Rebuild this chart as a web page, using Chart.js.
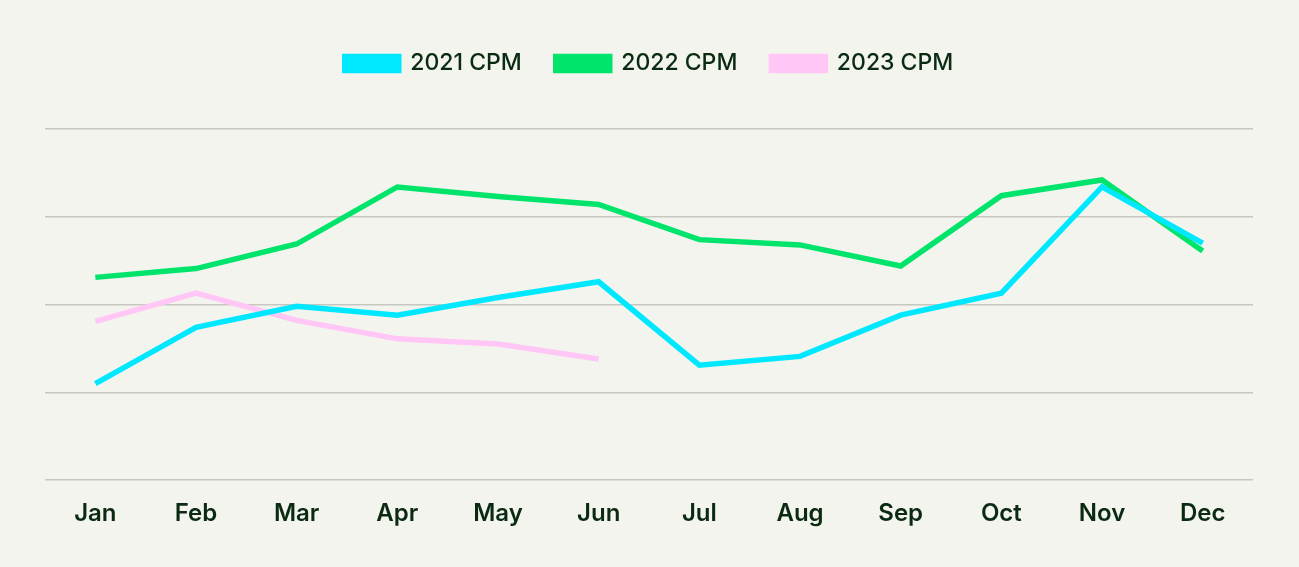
<!DOCTYPE html>
<html>
<head>
<meta charset="utf-8">
<script src="https://cdn.jsdelivr.net/npm/chart.js@4/dist/chart.umd.min.js"></script>
<style>
  html, body { margin: 0; padding: 0; background: #f3f4ee; }
  #wrap { width: 1299px; height: 567px; }
</style>
</head>
<body>
<div id="wrap"><canvas id="cpmChart"></canvas></div>
<script>
const months = ["Jan", "Feb", "Mar", "Apr", "May", "Jun", "Jul", "Aug", "Sep", "Oct", "Nov", "Dec"];
const cpm2021 = [1.10, 1.74, 1.98, 1.88, 2.08, 2.26, 1.31, 1.41, 1.88, 2.13, 3.34, 2.70];
const cpm2022 = [2.31, 2.41, 2.69, 3.34, 3.23, 3.14, 2.74, 2.68, 2.44, 3.24, 3.42, 2.61];
const cpm2023 = [1.81, 2.13, 1.82, 1.61, 1.55, 1.38];

const textColor = "#0b2a12";

// bikin jarak antara legend dan area grafik
const legendGap = {
  id: "legendGap",
  beforeInit(chart) {
    const origFit = chart.legend.fit;
    chart.legend.fit = function () {
      origFit.bind(chart.legend)();
      this.height += 44;
    };
  },
};

const ctx = document.getElementById("cpmChart").getContext("2d");
const chart = new Chart(ctx, {
  type: "line",
  data: {
    labels: months,
    datasets: [
      {
        label: "2021 CPM",
        data: cpm2021,
        borderColor: "#00e8ff",
        backgroundColor: "#00e8ff",
        borderWidth: 5.5,
        pointRadius: 0,
        tension: 0,
      },
      {
        label: "2022 CPM",
        data: cpm2022,
        borderColor: "#00e46c",
        backgroundColor: "#00e46c",
        borderWidth: 5.5,
        pointRadius: 0,
        tension: 0,
      },
      {
        label: "2023 CPM",
        data: cpm2023,
        borderColor: "#ffc6f6",
        backgroundColor: "#ffc6f6",
        borderWidth: 5.5,
        pointRadius: 0,
        tension: 0,
      },
    ],
  },
  options: {
    responsive: true,
    maintainAspectRatio: false,
    animation: false,
    layout: {
      padding: { top: 18, left: 45, right: 46, bottom: 28 },
    },
    plugins: {
      legend: {
        display: true,
        position: "top",
        labels: {
          boxWidth: 54,
          boxHeight: 14,
          padding: 34,
          color: textColor,
          font: { family: "Inter", size: 23, weight: "500" },
        },
      },
      tooltip: { enabled: false },
    },
    scales: {
      x: {
        offset: true,
        grid: { display: false },
        border: { display: false },
        ticks: {
          color: textColor,
          padding: 11,
          font: { family: "Inter", size: 24, weight: "600" },
        },
      },
      y: {
        min: 0,
        max: 4,
        ticks: { display: false, stepSize: 1 },
        border: { display: false },
        grid: { color: "#c6c8c0", lineWidth: 1.5, drawTicks: false },
      },
    },
  },
  plugins: [legendGap],
});
</script>
</body>
</html>
